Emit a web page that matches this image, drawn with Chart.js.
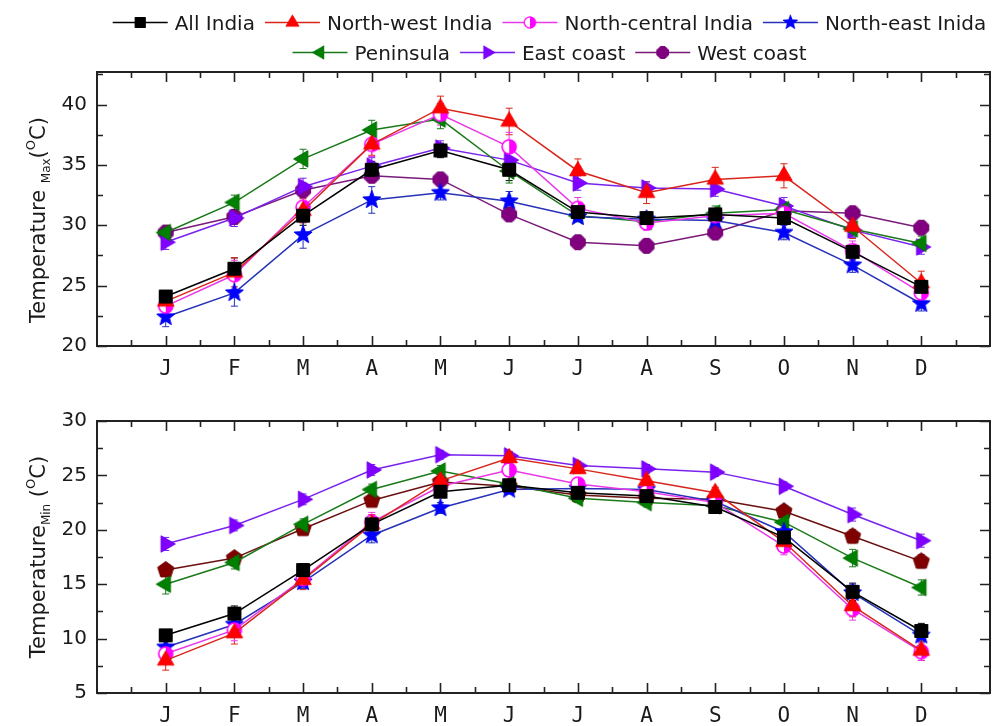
<!DOCTYPE html>
<html>
<head>
<meta charset="utf-8">
<script src="https://cdn.jsdelivr.net/npm/chart.js@4.4.0/dist/chart.umd.min.js"></script>
<style>
  html, body { margin: 0; padding: 0; background: #ffffff; }
  #wrap { position: relative; width: 1005px; height: 726px; overflow: hidden; }
  canvas { position: absolute; left: 0; }
  #cMax { top: 0; }
  #cMin { top: 395px; }
</style>
</head>
<body>
<div id="wrap">
  <canvas id="cMax" width="1005" height="395" style="width:1005px;height:395px"></canvas>
  <canvas id="cMin" width="1005" height="331" style="width:1005px;height:331px"></canvas>
</div>
<script>
// ---- Data -------------------------------------------------------------
const months = ['J', 'F', 'M', 'A', 'M', 'J', 'J', 'A', 'S', 'O', 'N', 'D'];
const seriesNames = ['All India', 'North-west India', 'North-central India', 'North-east Inida',
                     'Peninsula', 'East coast', 'West coast'];

const maxTicks = [20, 25, 30, 35, 40];
const minTicks = [5, 10, 15, 20, 25, 30];

// Monthly mean maximum temperature (°C)
const allIndiaMax = [24.1, 26.4, 30.8, 34.6, 36.2, 34.6, 31.1, 30.6, 30.9, 30.6, 27.8, 24.9];
const northWestMax = [23.7, 26.1, 31.2, 36.7, 39.7, 38.6, 34.5, 32.7, 33.8, 34.1, 29.9, 25.2];
const northCentralMax = [23.3, 25.9, 31.5, 36.7, 39.2, 36.5, 31.4, 30.2, 30.8, 31.0, 27.9, 24.4];
const northEastMax = [22.4, 24.4, 29.2, 32.1, 32.7, 32.0, 30.7, 30.5, 30.4, 29.4, 26.7, 23.5];
const peninsulaMax = [29.4, 31.9, 35.5, 37.9, 38.8, 34.5, 30.8, 30.3, 31.0, 31.3, 29.7, 28.5];
const eastCoastMax = [28.6, 30.6, 33.2, 34.9, 36.4, 35.4, 33.5, 33.1, 33.0, 31.6, 29.6, 28.2];
const westCoastMax = [29.4, 30.7, 32.9, 34.1, 33.8, 30.9, 28.6, 28.3, 29.4, 31.2, 31.0, 29.8];

// Standard deviation of the monthly maximum (°C)
const allIndiaMaxSd = [0.5, 0.9, 0.8, 0.7, 0.6, 0.9, 0.5, 0.4, 0.4, 0.5, 0.6, 0.6];
const northWestMaxSd = [0.8, 1.2, 1.0, 0.9, 1.0, 1.1, 1.0, 0.9, 1.0, 1.0, 1.0, 1.0];
const northCentralMaxSd = [0.8, 1.2, 1.0, 1.0, 0.9, 1.2, 0.9, 0.6, 0.6, 0.8, 0.8, 0.8];
const northEastMaxSd = [0.8, 1.1, 1.1, 1.1, 0.6, 0.8, 0.4, 0.4, 0.5, 0.6, 0.6, 0.6];
const peninsulaMaxSd = [0.5, 0.6, 0.8, 0.8, 0.8, 1.0, 0.5, 0.5, 0.6, 0.6, 0.6, 0.6];
const eastCoastMaxSd = [0.6, 0.7, 0.7, 0.7, 0.6, 0.8, 0.6, 0.5, 0.6, 0.7, 0.6, 0.6];
const westCoastMaxSd = [0.5, 0.6, 0.5, 0.5, 0.4, 0.5, 0.3, 0.3, 0.5, 0.5, 0.5, 0.5];

// Monthly mean minimum temperature (°C)
const allIndiaMin = [10.3, 12.3, 16.3, 20.5, 23.5, 24.1, 23.4, 23.1, 22.1, 19.3, 14.3, 10.7];
const northWestMin = [8.0, 10.5, 15.4, 20.5, 24.5, 26.6, 25.6, 24.5, 23.4, 18.9, 13.0, 8.9];
const northCentralMin = [8.6, 10.8, 15.5, 20.7, 24.0, 25.5, 24.2, 23.5, 22.5, 18.5, 12.7, 8.8];
const northEastMin = [9.2, 11.3, 15.2, 19.5, 22.0, 23.7, 23.8, 23.7, 22.6, 19.8, 14.2, 10.3];
const peninsulaMin = [15.0, 17.0, 20.5, 23.7, 25.4, 24.2, 22.9, 22.5, 22.2, 20.7, 17.4, 14.7];
const eastCoastMin = [18.7, 20.4, 22.8, 25.5, 26.9, 26.8, 25.9, 25.6, 25.3, 24.0, 21.4, 19.0];
const westCoastMin = [16.3, 17.4, 20.1, 22.7, 24.4, 24.0, 23.2, 22.9, 22.8, 21.7, 19.4, 17.1];

// Standard deviation of the monthly minimum (°C)
const allIndiaMinSd = [0.5, 0.7, 0.6, 0.6, 0.5, 0.4, 0.3, 0.3, 0.3, 0.6, 0.8, 0.7];
const northWestMinSd = [0.9, 1.0, 0.9, 0.9, 0.8, 0.6, 0.4, 0.4, 0.5, 0.8, 1.0, 0.9];
const northCentralMinSd = [0.8, 1.0, 0.8, 0.9, 0.7, 0.6, 0.4, 0.4, 0.4, 0.8, 1.0, 0.8];
const northEastMinSd = [0.6, 0.8, 0.6, 0.7, 0.5, 0.4, 0.3, 0.3, 0.4, 0.6, 0.8, 0.6];
const peninsulaMinSd = [0.9, 0.6, 0.5, 0.5, 0.5, 0.4, 0.4, 0.4, 0.4, 0.5, 0.8, 0.7];
const eastCoastMinSd = [0.6, 0.5, 0.5, 0.5, 0.4, 0.4, 0.4, 0.4, 0.4, 0.4, 0.6, 0.6];
const westCoastMinSd = [0.5, 0.5, 0.5, 0.5, 0.4, 0.4, 0.4, 0.4, 0.4, 0.5, 0.6, 0.6];

// ---- Marker glyphs ----------------------------------------------------
function markerCanvas(shape, fill, stroke) {
  const s = 24, m = s / 2;
  const c = document.createElement('canvas');
  c.width = s; c.height = s;
  const g = c.getContext('2d');
  g.fillStyle = fill; g.strokeStyle = stroke; g.lineWidth = 1;
  const poly = (n, r, rot, inner) => {
    g.beginPath();
    const pts = inner ? n * 2 : n;
    for (let i = 0; i < pts; i++) {
      const a = rot + i * 2 * Math.PI / pts;
      const rr = inner ? (i % 2 === 0 ? r : inner) : r;
      const px = m + rr * Math.cos(a), py = m + rr * Math.sin(a);
      i === 0 ? g.moveTo(px, py) : g.lineTo(px, py);
    }
    g.closePath(); g.fill(); g.stroke();
  };
  switch (shape) {
    case 'square':
      g.beginPath(); g.rect(m - 6.5, m - 6.5, 13, 13); g.fill(); g.stroke(); break;
    case 'triUp': poly(3, 9.5, -Math.PI / 2); break;
    case 'triLeft': poly(3, 9.5, Math.PI); break;
    case 'triRight': poly(3, 9.5, 0); break;
    case 'star': poly(5, 9.5, -Math.PI / 2, 4); break;
    case 'hex': poly(8, 8, Math.PI / 8); break;
    case 'pent': poly(5, 8.5, -Math.PI / 2); break;
    case 'half':
      g.beginPath(); g.arc(m, m, 7, 0, 2 * Math.PI); g.fillStyle = '#ffffff'; g.fill();
      g.beginPath(); g.arc(m, m, 7, -Math.PI / 2, Math.PI / 2); g.closePath();
      g.fillStyle = fill; g.fill();
      g.beginPath(); g.arc(m, m, 7, 0, 2 * Math.PI); g.lineWidth = 1.6; g.stroke();
      break;
  }
  return c;
}

const looks = [
  { line: '#000000', mark: markerCanvas('square', '#000000', '#000000') },
  { line: '#d8261c', mark: markerCanvas('triUp', '#ff0000', '#ee0000') },
  { line: '#e838e8', mark: markerCanvas('half', '#ff00ff', '#ff00ff') },
  { line: '#2632b8', mark: markerCanvas('star', '#0000ff', '#0000ee') },
  { line: '#1a7a1a', mark: markerCanvas('triLeft', '#008000', '#007000') },
  { line: '#7a22ee', mark: markerCanvas('triRight', '#8000ff', '#7000ee') },
  { line: '#7a1a7a', mark: markerCanvas('hex', '#800080', '#700070') }
];
const westCoastMinLook = { line: '#6a1010', mark: markerCanvas('pent', '#800000', '#700000') };

function buildSets(values, sds, lookList) {
  return values.map((vals, k) => ({
    label: seriesNames[k],
    data: vals.map((v, i) => ({ x: i + 1, y: v })),
    err: sds[k],
    borderColor: lookList[k].line,
    backgroundColor: lookList[k].line,
    borderWidth: 1.5,
    pointStyle: lookList[k].mark,
    pointRadius: 8,
    tension: 0
  }));
}

// ---- Plugins ----------------------------------------------------------
const errorBars = {
  id: 'errorBars',
  beforeDatasetsDraw(chart) {
    const { ctx, scales: { x, y } } = chart;
    ctx.save();
    ctx.lineWidth = 1;
    chart.data.datasets.forEach(ds => {
      ctx.strokeStyle = ds.borderColor;
      ds.data.forEach((p, i) => {
        const px = x.getPixelForValue(p.x);
        const lo = y.getPixelForValue(p.y - ds.err[i]);
        const hi = y.getPixelForValue(p.y + ds.err[i]);
        ctx.beginPath();
        ctx.moveTo(px, lo); ctx.lineTo(px, hi);
        ctx.moveTo(px - 3.5, lo); ctx.lineTo(px + 3.5, lo);
        ctx.moveTo(px - 3.5, hi); ctx.lineTo(px + 3.5, hi);
        ctx.stroke();
      });
    });
    ctx.restore();
  }
};

const frameTicks = {
  id: 'frameTicks',
  afterDraw(chart) {
    const { ctx, chartArea: a, scales: { x, y } } = chart;
    ctx.save();
    ctx.strokeStyle = '#222222';
    ctx.lineWidth = 2;
    ctx.strokeRect(a.left, a.top, a.right - a.left, a.bottom - a.top);
    ctx.lineWidth = 1.6;
    const xs = x.ticks.map(t => t.value);
    const xMinor = xs.map(v => v - 0.5).concat([xs[xs.length - 1] + 0.5]);
    const ys = y.ticks.map(t => t.value);
    const yStep = ys[1] - ys[0];
    const yMinor = ys.map(v => v + yStep / 2).filter(v => v < y.max);
    const vt = (v, len) => {
      const px = Math.round(x.getPixelForValue(v)) + 0.5;
      ctx.beginPath();
      ctx.moveTo(px, a.bottom); ctx.lineTo(px, a.bottom - len);
      ctx.moveTo(px, a.top); ctx.lineTo(px, a.top + len);
      ctx.stroke();
    };
    const ht = (v, len) => {
      const py = Math.round(y.getPixelForValue(v)) + 0.5;
      ctx.beginPath();
      ctx.moveTo(a.left, py); ctx.lineTo(a.left + len, py);
      ctx.moveTo(a.right, py); ctx.lineTo(a.right - len, py);
      ctx.stroke();
    };
    xs.forEach(v => vt(v, 10));
    xMinor.forEach(v => vt(v, 6));
    ys.forEach(v => ht(v, 10));
    yMinor.forEach(v => ht(v, 6));
    ctx.restore();
  }
};

// Rotated axis title with sub- and superscripts
function axisTitle(parts, baselineX, centerY) {
  return {
    id: 'axisTitle',
    afterDraw(chart) {
      const ctx = chart.ctx;
      ctx.save();
      ctx.translate(baselineX, centerY);
      ctx.rotate(-Math.PI / 2);
      ctx.fillStyle = '#1a1a1a';
      ctx.textBaseline = 'alphabetic';
      let total = 0;
      parts.forEach(p => { ctx.font = p.size + 'px "DejaVu Sans"'; total += ctx.measureText(p.text).width; });
      let cx = -total / 2;
      parts.forEach(p => {
        ctx.font = p.size + 'px "DejaVu Sans"';
        ctx.fillText(p.text, cx, p.shift);
        cx += ctx.measureText(p.text).width;
      });
      ctx.restore();
    }
  };
}

// Two-row legend with line-and-marker samples
const lineLegend = {
  id: 'lineLegend',
  afterDraw(chart) {
    const ctx = chart.ctx;
    const rows = [[0, 1, 2, 3], [4, 5, 6]];
    const baselines = [30, 60];
    const sampleLen = 55, gapText = 7, gapItem = 10;
    const centre = (chart.chartArea.left + chart.chartArea.right) / 2 + 6;
    ctx.save();
    ctx.font = '20px "DejaVu Sans"';
    ctx.textBaseline = 'alphabetic';
    rows.forEach((row, r) => {
      const widths = row.map(k => ctx.measureText(seriesNames[k]).width);
      const total = widths.reduce((s, w) => s + w, 0) + row.length * (sampleLen + gapText) + (row.length - 1) * gapItem;
      let cx = centre - total / 2;
      const midY = baselines[r] - 7.5;
      row.forEach((k, j) => {
        ctx.strokeStyle = looks[k].line;
        ctx.lineWidth = 1.5;
        ctx.beginPath(); ctx.moveTo(cx, midY); ctx.lineTo(cx + sampleLen, midY); ctx.stroke();
        const mk = looks[k].mark;
        const sc = 0.8;
        ctx.drawImage(mk, cx + sampleLen / 2 - mk.width * sc / 2, midY - mk.height * sc / 2, mk.width * sc, mk.height * sc);
        cx += sampleLen + gapText;
        ctx.fillStyle = '#1a1a1a';
        ctx.fillText(seriesNames[k], cx, baselines[r]);
        cx += widths[j] + gapItem;
      });
    });
    ctx.restore();
  }
};

// ---- Charts -----------------------------------------------------------
function makeOptions(yMin, yMax, yTickList, padTop, xHeight) {
  return {
    responsive: false,
    animation: false,
    devicePixelRatio: 1,
    layout: { padding: { top: padTop, right: 15, left: 0, bottom: 0 } },
    plugins: { legend: { display: false }, tooltip: { enabled: false } },
    scales: {
      x: {
        type: 'linear', min: 0, max: months.length + 1,
        grid: { display: false, drawTicks: false },
        border: { display: false },
        afterBuildTicks: s => { s.ticks = months.map((m, i) => ({ value: i + 1 })); },
        afterFit: s => { s.height = xHeight; },
        ticks: {
          autoSkip: false, maxRotation: 0, padding: 11, color: '#1a1a1a',
          font: { family: '"DejaVu Sans Mono"', size: 21 },
          callback: v => months[v - 1]
        }
      },
      y: {
        min: yMin, max: yMax,
        grid: { display: false, drawTicks: false },
        border: { display: false },
        afterBuildTicks: s => { s.ticks = yTickList.map(v => ({ value: v })); },
        afterFit: s => { s.width = 97; },
        ticks: { padding: 10, color: '#1a1a1a', font: { family: '"DejaVu Sans"', size: 20 } }
      }
    }
  };
}

new Chart(document.getElementById('cMax'), {
  type: 'line',
  data: {
    datasets: buildSets(
      [allIndiaMax, northWestMax, northCentralMax, northEastMax, peninsulaMax, eastCoastMax, westCoastMax],
      [allIndiaMaxSd, northWestMaxSd, northCentralMaxSd, northEastMaxSd, peninsulaMaxSd, eastCoastMaxSd, westCoastMaxSd],
      looks)
  },
  options: makeOptions(20, 42.7, maxTicks, 72, 49),
  plugins: [errorBars, frameTicks, lineLegend, axisTitle([
    { text: 'Temperature ', size: 21, shift: 0 },
    { text: 'Max', size: 12, shift: 5 },
    { text: '(', size: 21, shift: 0 },
    { text: 'O', size: 13, shift: -10 },
    { text: 'C)', size: 21, shift: 0 }
  ], 45, 220)]
});

new Chart(document.getElementById('cMin'), {
  type: 'line',
  data: {
    datasets: buildSets(
      [allIndiaMin, northWestMin, northCentralMin, northEastMin, peninsulaMin, eastCoastMin, westCoastMin],
      [allIndiaMinSd, northWestMinSd, northCentralMinSd, northEastMinSd, peninsulaMinSd, eastCoastMinSd, westCoastMinSd],
      looks.slice(0, 6).concat([westCoastMinLook]))
  },
  options: makeOptions(5, 30, minTicks, 26, 33),
  plugins: [errorBars, frameTicks, axisTitle([
    { text: 'Temperature', size: 21, shift: 0 },
    { text: 'Min', size: 12, shift: 5 },
    { text: ' (', size: 21, shift: 0 },
    { text: 'O', size: 13, shift: -10 },
    { text: 'C)', size: 21, shift: 0 }
  ], 45, 162)]
});
</script>
</body>
</html>
